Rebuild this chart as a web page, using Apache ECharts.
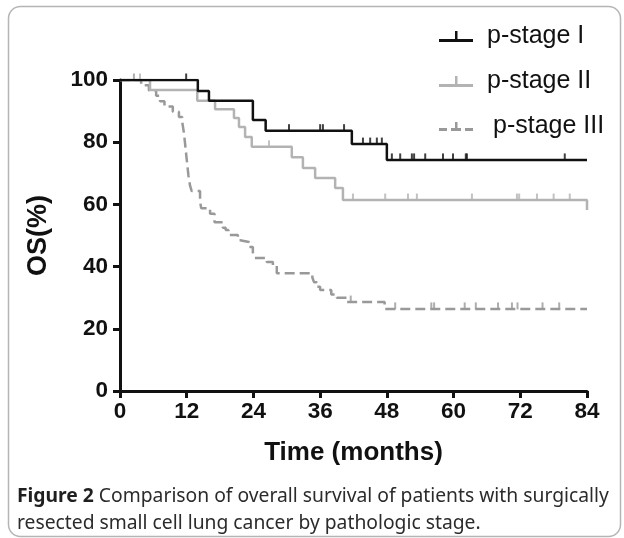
<!DOCTYPE html>
<html>
<head>
<meta charset="utf-8">
<script src="https://cdn.jsdelivr.net/npm/echarts@6/dist/echarts.min.js"></script>
<style>
  html, body { margin: 0; padding: 0; background: #fff; }
  #chart { width: 624px; height: 538px; }
</style>
</head>
<body>
<div id="chart"></div>
<script>
// x ticks (months) and y ticks (%)
var xTicks = [0, 12, 24, 36, 48, 60, 72, 84];
var yTicks = [0, 20, 40, 60, 80, 100];

// Kaplan-Meier steps: [month, OS%]
var stageI = [[0, 100], [14, 96.5], [16, 93.3], [23.9, 87.1], [26.2, 83.7], [41.7, 79.4], [48, 74.3], [84, 74.3]];
var stageII = [[0, 100], [5.4, 96.8], [13.9, 93.3], [17.1, 90.6], [20.5, 87.8], [21.4, 84.9], [22.5, 81.7], [23.7, 78.5],
  [30.9, 75.2], [32.9, 71.7], [35.1, 68.5], [38.7, 65.3], [40.1, 61.4], [84, 58.2]];
var stageIII = [[0, 100], [3.8, 98.3], [5.2, 96.6], [6.5, 94.9], [7.2, 93.2], [8, 91.5], [9.5, 89.8], [10.6, 88.1],
  [11.2, 86.4], [11.5, 83], [11.7, 79.6], [11.9, 76.2], [12.1, 72.8], [12.3, 69.4], [12.6, 66], [12.9, 64.3],
  [14.4, 61], [14.6, 58.8], [16.2, 57], [17, 54.3], [18.5, 52.5], [19, 51.8], [19.5, 50.2], [21.2, 48.5],
  [21.6, 47.9], [23.2, 46.3], [23.9, 44.5], [24.2, 42.8], [26.4, 41.5], [27.5, 40.5], [28.2, 37.9],
  [34.6, 36.5], [34.9, 35], [35.4, 33.5], [36, 32.5], [38, 31], [39, 30], [40.8, 28.6], [47.6, 26.4], [84, 26.4]];

// censored observations (months)
var censorI = [11.9, 30.4, 36, 36.5, 40.3, 43.7, 45, 46.2, 47.1, 48.9, 50.4, 52.5, 52.9, 54.9, 58.1, 59.9, 62.2, 62.4, 80];
var censorII = [3.6, 26.8, 41.9, 47.7, 51.8, 53.4, 63.3, 71.4, 71.8, 75, 78, 80.9];
var censorIII = [2.5, 41.5, 49.5, 56, 56.5, 62, 64, 68, 70.5, 71.5, 76, 79];

var names = ['p-stage I', 'p-stage II', 'p-stage III'];
var colors = ['#111111', '#b3b3b3', '#999999'];

// level of a step curve at time t
function survAt(steps, t) {
  var v = steps[0][1];
  for (var i = 0; i < steps.length; i++) {
    if (steps[i][0] <= t) v = steps[i][1];
  }
  return v;
}
function censorPts(steps, times) {
  return times.map(function (t) { return [t, survAt(steps, t)]; });
}

var chart = echarts.init(document.getElementById('chart'));

var axisFont = { fontFamily: 'Liberation Sans, Arial', fontWeight: 'bold', fontSize: 22.5, color: '#111' };

var option = {
  backgroundColor: '#fff',
  animation: false,
  grid: { left: 120, right: 37, top: 80, bottom: 147 },
  legend: {
    orient: 'vertical',
    left: 434,
    top: 19,
    itemWidth: 34,
    itemHeight: 12,
    itemGap: 20,
    textStyle: { fontFamily: 'Liberation Sans, Arial', fontSize: 25, color: '#111', padding: [0, 0, 0, 9] },
    data: [
      { name: names[0], icon: 'path://M0,8h34v3h-34z M16,0h2.5v11h-2.5z', itemStyle: { color: colors[0] } },
      { name: names[1], icon: 'path://M0,8h34v3h-34z M16,0h2.5v11h-2.5z', itemStyle: { color: colors[1] } },
      { name: names[2], icon: 'path://M0,8h8v3h-8z M12,8h10v3h-10z M26,8h8v3h-8z M16,2h2.5v9h-2.5z', itemStyle: { color: colors[2] },
        textStyle: { padding: [0, 0, 0, 15] } }
    ]
  },
  xAxis: {
    type: 'value', min: xTicks[0], max: xTicks[xTicks.length - 1], interval: 12,
    name: 'Time (months)', nameLocation: 'middle', nameGap: 49,
    nameTextStyle: { fontFamily: 'Liberation Sans, Arial', fontWeight: 'bold', fontSize: 26, color: '#111' },
    axisLine: { lineStyle: { color: '#111', width: 3 } },
    axisTick: { length: 7, lineStyle: { color: '#111', width: 3 } },
    axisLabel: Object.assign({ margin: 9 }, axisFont),
    splitLine: { show: false }
  },
  yAxis: {
    type: 'value', min: yTicks[0], max: yTicks[yTicks.length - 1], interval: 20,
    name: 'OS(%)', nameLocation: 'middle', nameGap: 68,
    nameTextStyle: { fontFamily: 'Liberation Sans, Arial', fontWeight: 'bold', fontSize: 27, color: '#111' },
    axisLine: { show: true, lineStyle: { color: '#111', width: 3 } },
    axisTick: { show: true, length: 7, lineStyle: { color: '#111', width: 3 } },
    axisLabel: Object.assign({ margin: 12 }, axisFont),
    splitLine: { show: false }
  },
  series: [
    { name: names[2], type: 'line', step: 'end', data: stageIII, symbol: 'none', z: 2,
      lineStyle: { color: colors[2], width: 2.5, type: [10, 5] }, itemStyle: { color: colors[2] } },
    { name: names[1], type: 'line', step: 'end', data: stageII, symbol: 'none', z: 3,
      lineStyle: { color: colors[1], width: 2.5 }, itemStyle: { color: colors[1] } },
    { name: names[0], type: 'line', step: 'end', data: stageI, symbol: 'none', z: 4,
      lineStyle: { color: colors[0], width: 2.5 }, itemStyle: { color: colors[0] } },
    { name: names[2], type: 'scatter', data: censorPts(stageIII, censorIII), symbol: 'rect',
      symbolSize: [2, 7], symbolOffset: [0, -3], itemStyle: { color: colors[2] }, z: 2 },
    { name: names[1], type: 'scatter', data: censorPts(stageII, censorII), symbol: 'rect',
      symbolSize: [2, 7], symbolOffset: [0, -3], itemStyle: { color: colors[1] }, z: 3 },
    { name: names[0], type: 'scatter', data: censorPts(stageI, censorI), symbol: 'rect',
      symbolSize: [2, 7], symbolOffset: [0, -3], itemStyle: { color: colors[0] }, z: 4 }
  ],
  graphic: [
    { type: 'rect', left: 6, top: 4, shape: { width: 612, height: 530, r: 12 }, z: -1,
      style: { fill: 'none', stroke: '#b5b5b5', lineWidth: 1.5 } },
    { type: 'text', left: 17, top: 483,
      style: {
        text: '{b|Figure 2} Comparison of overall survival of patients with surgically\nresected small cell lung cancer by pathologic stage.',
        fontFamily: 'Noto Sans', fontSize: 19.3, lineHeight: 27, fill: '#2b2b2b',
        rich: { b: { fontFamily: 'Noto Sans', fontSize: 19.3, fontWeight: 'bold', fill: '#1f1f1f' } }
      } }
  ]
};

chart.setOption(option);
</script>
</body>
</html>
